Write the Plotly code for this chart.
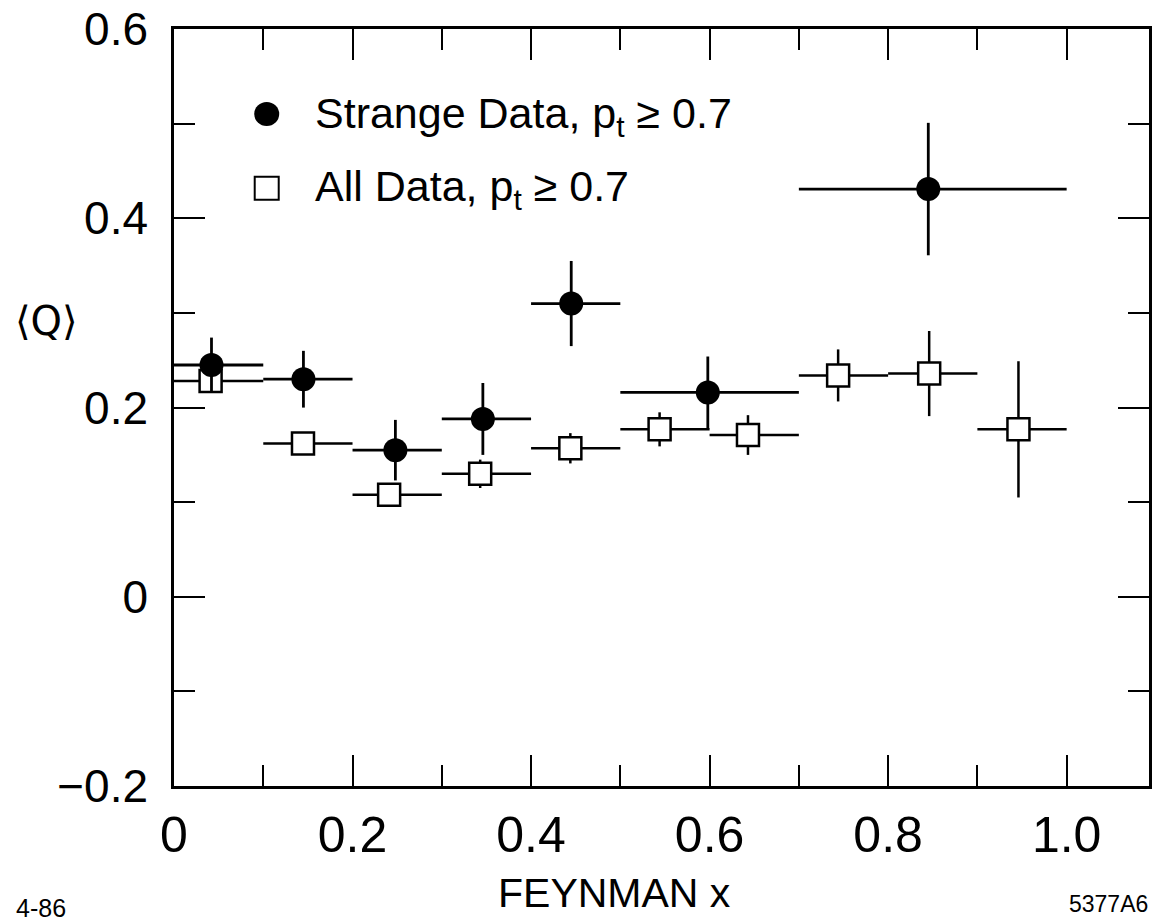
import plotly.graph_objects as go

# ---- data ----
strange_x = [0.042, 0.145, 0.248, 0.346, 0.445, 0.598, 0.845]
strange_y = [0.245, 0.230, 0.155, 0.188, 0.310, 0.216, 0.431]
strange_err = [0.029, 0.030, 0.032, 0.038, 0.045, 0.038, 0.070]
strange_lo = [0.0, 0.1, 0.2, 0.3, 0.4, 0.5, 0.7]
strange_hi = [0.1, 0.2, 0.3, 0.4, 0.5, 0.7, 1.0]

all_x = [0.041, 0.1445, 0.241, 0.343, 0.444, 0.544, 0.643, 0.744, 0.846, 0.946]
all_y = [0.228, 0.162, 0.108, 0.130, 0.157, 0.177, 0.171, 0.234, 0.236, 0.177]
all_err = [0.010, 0.010, 0.010, 0.015, 0.016, 0.018, 0.021, 0.0275, 0.045, 0.072]
all_lo = [0.0, 0.1, 0.2, 0.3, 0.4, 0.5, 0.6, 0.7, 0.8, 0.9]
all_hi = [0.1, 0.2, 0.3, 0.4, 0.5, 0.6, 0.7, 0.8, 0.9, 1.0]

x_tickvals = [0, 0.2, 0.4, 0.6, 0.8, 1.0]
x_ticktext = ["0", "0.2", "0.4", "0.6", "0.8", "1.0"]
y_tickvals = [-0.2, 0, 0.2, 0.4, 0.6]
y_ticktext = ["\u22120.2", "0", "0.2", "0.4", "0.6"]

FONT = "Liberation Sans"
W, H = 1155, 923
PL, PT = 174, 21            # plot-area top-left in window pixels
PW, PH = 978, 765           # plot-area size
L, T = PL, PT
R, B = W - L - PW, H - T - PH


def px(xp):
    return (xp - PL) / PW


def py(yp):
    return (PT + PH - yp) / PH


fig = go.Figure()

fig.add_trace(go.Scatter(
    x=all_x, y=all_y, mode="markers", name="All Data",
    marker=dict(symbol="square", size=22, color="white",
                line=dict(color="black", width=2.5)),
    error_x=dict(type="data", symmetric=False,
                 array=[h - x for h, x in zip(all_hi, all_x)],
                 arrayminus=[x - l for l, x in zip(all_lo, all_x)],
                 color="black", thickness=2.5, width=0),
    error_y=dict(type="data", array=all_err, color="black", thickness=2.5, width=0),
    showlegend=False,
))

fig.add_trace(go.Scatter(
    x=strange_x, y=strange_y, mode="markers", name="Strange Data",
    marker=dict(symbol="circle", size=24, color="black",
                line=dict(color="black", width=0)),
    error_x=dict(type="data", symmetric=False,
                 array=[h - x for h, x in zip(strange_hi, strange_x)],
                 arrayminus=[x - l for l, x in zip(strange_lo, strange_x)],
                 color="black", thickness=2.8, width=0),
    error_y=dict(type="data", array=strange_err, color="black", thickness=2.8, width=0),
    showlegend=False,
))

axis_common = dict(
    showline=True, linecolor="black", linewidth=2.5, mirror="allticks",
    ticks="inside", ticklen=31, tickwidth=2.2, tickcolor="black",
    showgrid=False, zeroline=False, ticklabeloverflow="allow",
)

fig.update_xaxes(
    range=[0, PW / 895.4], tickvals=x_tickvals, ticktext=x_ticktext,
    tickfont=dict(family=FONT, size=50, color="black"),
    minor=dict(ticks="inside", ticklen=21, tickwidth=2.2, tickcolor="black",
               tick0=0, dtick=0.1, showgrid=False),
    ticklabelstandoff=3,
    **axis_common,
)
fig.update_yaxes(
    range=[-0.2, 0.6002], tickvals=y_tickvals, ticktext=y_ticktext,
    tickfont=dict(family=FONT, size=46, color="black"),
    minor=dict(ticks="inside", ticklen=21, tickwidth=2.2, tickcolor="black",
               tick0=0, dtick=0.1, showgrid=False),
    ticklabelstandoff=14,
    **axis_common,
)

annotations = [
    dict(x=px(313), y=py(109), text="Strange Data, p<sub>t</sub> \u2265 0.7",
         xanchor="left", yanchor="middle", font=dict(family=FONT, size=43)),
    dict(x=px(313), y=py(183), text="All Data, p<sub>t</sub> \u2265 0.7",
         xanchor="left", yanchor="middle", font=dict(family=FONT, size=43)),
    dict(x=px(46), y=py(316), text="\u27e8Q\u27e9", xanchor="center", yanchor="middle",
         font=dict(family="DejaVu Sans", size=40)),
    dict(x=px(616), y=py(894), text="FEYNMAN x", xanchor="center", yanchor="middle",
         font=dict(family=FONT, size=41)),
    dict(x=px(14), y=py(909), text="4-86", xanchor="left", yanchor="middle",
         font=dict(family=FONT, size=25)),
    dict(x=px(1153), y=py(905), text="5377A6", xanchor="right", yanchor="middle",
         font=dict(family=FONT, size=23)),
]
for a in annotations:
    a.update(xref="paper", yref="paper", showarrow=False)
    a["font"]["color"] = "black"

shapes = [
    dict(type="circle", xref="paper", yref="paper", xsizemode="pixel", ysizemode="pixel",
         xanchor=px(267), yanchor=py(107), x0=-12.5, x1=12.5, y0=-12, y1=12,
         fillcolor="black", line=dict(color="black", width=0)),
    dict(type="rect", xref="paper", yref="paper", xsizemode="pixel", ysizemode="pixel",
         xanchor=px(267), yanchor=py(182), x0=-12, x1=12, y0=-11.5, y1=11.5,
         fillcolor="white", line=dict(color="black", width=2)),
]

fig.update_layout(
    width=W, height=H,
    margin=dict(l=L, r=R, t=T, b=B),
    paper_bgcolor="white", plot_bgcolor="white",
    annotations=annotations, shapes=shapes,
    showlegend=False,
)

fig.write_html(
    "out.html",
    config={"displayModeBar": False},
    post_script="document.body.style.margin='0';document.body.style.overflow='hidden';",
)
